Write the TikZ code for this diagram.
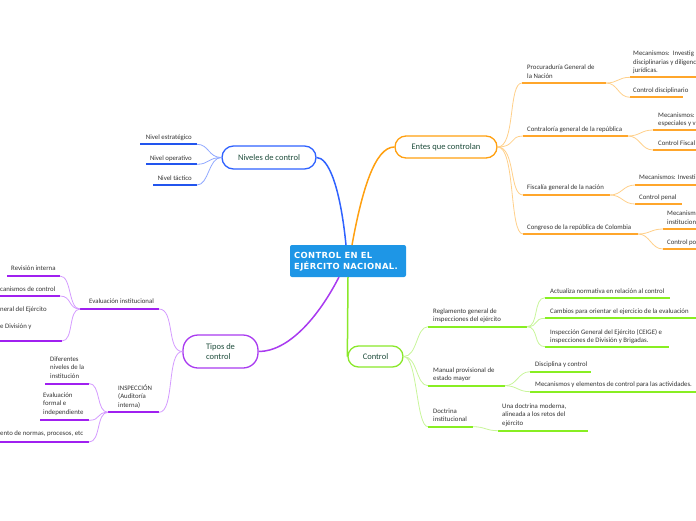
\documentclass[tikz,border=0pt]{standalone}
\usepackage{fontspec}
\setmainfont{Carlito}
\newfontfamily\rootfont[LetterSpace=4]{DejaVu Sans}
\definecolor{rootblue}{HTML}{1E96E6}
\definecolor{titlec}{HTML}{1F4D3C}
\definecolor{leafc}{HTML}{333333}
\definecolor{omain}{HTML}{FFA010}
\definecolor{ounder}{HTML}{FFA62B}
\definecolor{othin}{HTML}{FFD08A}
\definecolor{bmain}{HTML}{2F62FF}
\definecolor{bunder}{HTML}{2255EE}
\definecolor{bthin}{HTML}{90A8FF}
\definecolor{pmain}{HTML}{A93BF0}
\definecolor{punder}{HTML}{A020F0}
\definecolor{pthin}{HTML}{D49BFF}
\definecolor{gmain}{HTML}{8AE82A}
\definecolor{gunder}{HTML}{88EE22}
\definecolor{gthin}{HTML}{C8F59A}
\begin{document}
\begin{tikzpicture}[x=1pt,y=-1pt,
  leaf/.style={inner sep=0pt, font=\fontsize{6.8}{8.5}\selectfont, text=leafc, align=left, anchor=base west},
  leafr/.style={leaf, align=right, anchor=base east},
  title/.style={draw, line width=1.3pt, fill=white, text=titlec, font=\fontsize{8.5}{10.3}\selectfont, inner sep=0pt},
  under/.style={line width=2pt},
  thin/.style={line width=0.8pt},
  main/.style={line width=1.5pt}]
\useasboundingbox (0,0) rectangle (696,520);

% root
\node[fill=rootblue, rounded corners=2pt, minimum width=116pt, minimum height=32pt, inner sep=0pt] (root) at (348,261) {};
\node[anchor=base west, inner sep=0pt, align=left, text=white, font=\rootfont\bfseries\fontsize{8.4}{11}\selectfont] (roottxt) at (294,269.8) {CONTROL EN EL\\EJÉRCITO NACIONAL.};

% title nodes
\node[title, draw=bmain, minimum width=94pt, minimum height=23pt, rounded corners=11.5pt] (niv) at (269,157.5) {Niveles de control};
\node[title, draw=omain, minimum width=102pt, minimum height=22pt, rounded corners=11pt] (ent) at (446,147) {Entes que controlan};
\node[title, draw=pmain, minimum width=75pt, minimum height=33pt, rounded corners=15pt, align=left] (tip) at (220.5,351.5) {Tipos de\\control};
\node[title, draw=gmain, minimum width=55pt, minimum height=21pt, rounded corners=10.5pt] (ctl) at (375.5,356.5) {Control};

% main connectors
\coordinate (rb) at (346,245);
\coordinate (ro) at (352,245);
\coordinate (rp) at (339,277);
\coordinate (rg) at (348,277);
\draw[main, bmain] (rb) .. controls (340,185) and (328,157.5) .. (niv.east);
\draw[main, omain] (ro) .. controls (362,190) and (375,147) .. (ent.west);
\draw[main, pmain] (rp) .. controls (318,318) and (288,351.5) .. (tip.east);
\draw[main, gmain] (rg) -- (ctl.west);

% ---------- orange branch ----------
\node[leaf] (proc) at (527,78) {Procuraduría General de\\la Nación};
\coordinate (procL) at (522,83); \coordinate (procR) at (606,83);
\node[leaf] (pmec) at (633,72.5) {Mecanismos:\ \ Investig\\disciplinarias y diligenc\\jurídicas.};
\coordinate (pmecL) at (630,77.3); \coordinate (pmecR) at (700,77.3);
\node[leaf] (pdis) at (633,92.3) {Control disciplinario};
\coordinate (pdisL) at (630,97.3); \coordinate (pdisR) at (683,97.3);
\node[leaf] (contr) at (527,131.3) {Contraloría general de la república};
\coordinate (contrL) at (523,136); \coordinate (contrR) at (628,136);
\node[leaf] (cmec) at (658,125.8) {Mecanismos:\\especiales y v};
\coordinate (cmecL) at (653,130); \coordinate (cmecR) at (700,130);
\node[leaf] (cfis) at (658,145) {Control Fiscal};
\coordinate (cfisL) at (653,150); \coordinate (cfisR) at (700,150);
\node[leaf] (fisc) at (527,189.3) {Fiscalía general de la nación};
\coordinate (fiscL) at (523,195); \coordinate (fiscR) at (610,195);
\node[leaf] (fmec) at (639,179.3) {Mecanismos: Investi};
\coordinate (fmecL) at (635,185); \coordinate (fmecR) at (700,185);
\node[leaf] (fpen) at (639,199) {Control penal};
\coordinate (fpenL) at (635,204); \coordinate (fpenR) at (682,204);
\node[leaf] (cong) at (527,229) {Congreso de la república de Colombia};
\coordinate (congL) at (523,234); \coordinate (congR) at (638,234);
\node[leaf] (gmec) at (667,224) {Mecanism\\institucion};
\coordinate (gmecL) at (663,229); \coordinate (gmecR) at (700,229);
\node[leaf] (gpol) at (667,244) {Control po};
\coordinate (gpolL) at (663,249); \coordinate (gpolR) at (700,249);

\foreach \n in {proc,pmec,pdis,contr,cmec,cfis,fisc,fmec,fpen,cong,gmec,gpol}
  \draw[under, ounder] (\n L) -- (\n R);
\foreach \n in {proc,contr,fisc,cong}
  \draw[thin, othin] (ent.east) .. controls +(18,0) and +(-14,0) .. (\n L);
\foreach \a/\b in {proc/pmec,proc/pdis,contr/cmec,contr/cfis,fisc/fmec,fisc/fpen,cong/gmec,cong/gpol}
  \draw[thin, othin] (\a R) .. controls +(12,0) and +(-12,0) .. (\b L);

% ---------- blue branch ----------
\node[leafr] (est) at (192,139.3) {Nivel estratégico};
\coordinate (estL) at (140,144.3); \coordinate (estR) at (197,144.3);
\node[leafr] (ope) at (192,160) {Nivel operativo};
\coordinate (opeL) at (146,164.3); \coordinate (opeR) at (197,164.3);
\node[leafr] (tac) at (192,180) {Nivel táctico};
\coordinate (tacL) at (153,185); \coordinate (tacR) at (197,185);
\foreach \n in {est,ope,tac}{
  \draw[under, bunder] (\n L) -- (\n R);
  \draw[thin, bthin] (niv.west) .. controls +(-13,0) and +(12,0) .. (\n R);}

% ---------- purple branch ----------
\node[leaf] (eval) at (89,303.3) {Evaluación institucional};
\coordinate (evalL) at (80,309); \coordinate (evalR) at (159,309);
\node[leaf] (rev) at (11,270.3) {Revisión interna};
\coordinate (revL) at (7,276); \coordinate (revR) at (60,276);
\node[leaf] (emec) at (0,291.3) {canismos de control};
\coordinate (emecL) at (-2,296); \coordinate (emecR) at (60,296);
\node[leaf] (eins) at (0,328.3) {neral del Ejército\\[8.5pt]e División y};
\coordinate (einsL) at (-2,341); \coordinate (einsR) at (62,341);
\node[leaf] (insp) at (118,407) {INSPECCIÓN\\(Auditoría\\interna)};
\coordinate (inspL) at (108,412.3); \coordinate (inspR) at (159,412.3);
\node[leaf] (dif) at (50,378.3) {Diferentes\\niveles de la\\institución};
\coordinate (difL) at (45,383.5); \coordinate (difR) at (89,383.5);
\node[leaf] (evf) at (43,414.3) {Evaluación\\formal e\\independiente};
\coordinate (evfL) at (40,420.3); \coordinate (evfR) at (89,420.3);
\node[leaf] (cum) at (0,435.6) {ento de normas, procesos, etc};
\coordinate (cumL) at (-2,442); \coordinate (cumR) at (89,442);
\foreach \n in {eval,rev,emec,eins,insp,dif,evf,cum}
  \draw[under, punder] (\n L) -- (\n R);
\foreach \n in {eval,insp}
  \draw[thin, pthin] (tip.west) .. controls +(-16,0) and +(16,0) .. (\n R);
\foreach \n in {rev,emec,eins}
  \draw[thin, pthin] (evalL) .. controls +(-12,0) and +(12,0) .. (\n R);
\foreach \n in {dif,evf,cum}
  \draw[thin, pthin] (inspL) .. controls +(-12,0) and +(12,0) .. (\n R);

% ---------- green branch ----------
\node[leaf] (reg) at (433,321.8) {Reglamento general de\\inspecciones del ejército};
\coordinate (regL) at (428,326.7); \coordinate (regR) at (527,326.7);
\node[leaf] (act) at (550,293) {Actualiza normativa en relación al control};
\coordinate (actL) at (545,297.7); \coordinate (actR) at (670,297.7);
\node[leaf] (cam) at (550,313.3) {Cambios para orientar el ejercicio de la evaluación};
\coordinate (camL) at (545,318.3); \coordinate (camR) at (700,318.3);
\node[leaf] (insg) at (550,342.5) {Inspección General del Ejército (CEIGE) e\\inspecciones de División y Brigadas.};
\coordinate (insgL) at (545,346.7); \coordinate (insgR) at (669,346.7);
\node[leaf] (man) at (433,380.8) {Manual provisional de\\estado mayor};
\coordinate (manL) at (428,385.7); \coordinate (manR) at (505,385.7);
\node[leaf] (dis) at (535,366.6) {Disciplina y control};
\coordinate (disL) at (530,371.7); \coordinate (disR) at (591,371.7);
\node[leaf] (meca) at (535,386.6) {Mecanismos y elementos de control para las actividades.};
\coordinate (mecaL) at (530,391.7); \coordinate (mecaR) at (700,391.7);
\node[leaf] (doc) at (433,421.5) {Doctrina\\institucional};
\coordinate (docL) at (428,426.7); \coordinate (docR) at (473,426.7);
\node[leaf] (una) at (502,425.3) {Una doctrina moderna,\\alineada a los retos del\\ejército};
\coordinate (unaL) at (498,430.7); \coordinate (unaR) at (588,430.7);
\foreach \n in {reg,act,cam,insg,man,dis,meca,doc,una}
  \draw[under, gunder] (\n L) -- (\n R);
\foreach \n in {reg,man,doc}
  \draw[thin, gthin] (ctl.east) .. controls +(14,0) and +(-12,0) .. (\n L);
\foreach \a/\b in {reg/act,reg/cam,reg/insg,man/dis,man/meca,doc/una}
  \draw[thin, gthin] (\a R) .. controls +(12,0) and +(-12,0) .. (\b L);
\end{tikzpicture}
\end{document}
